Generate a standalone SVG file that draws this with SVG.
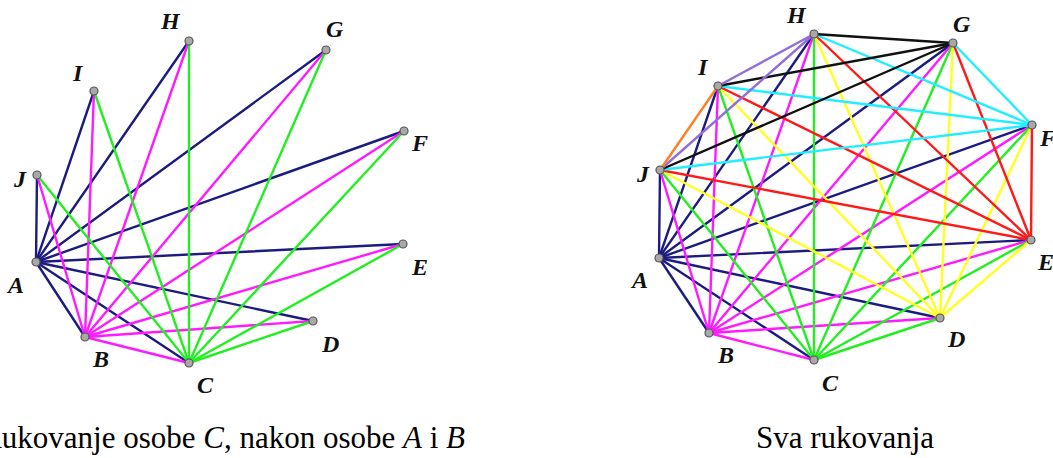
<svg xmlns="http://www.w3.org/2000/svg" width="1053" height="458" viewBox="0 0 1053 458">
<style>
line{stroke-width:2.4;stroke-linecap:round}
.a{stroke:#1b1b80}.b{stroke:#ff1aff}.c{stroke:#22ee22}.d{stroke:#ffff22}.e{stroke:#ff1a1a}.f{stroke:#22eeff}.g{stroke:#111111}.h{stroke:#9070d8}.i{stroke:#ff8020}
circle{fill:#a8a8a8;stroke:#555;stroke-width:1.2}
.lbl{font-family:'Liberation Serif','DejaVu Serif',serif;font-weight:bold;font-style:italic;font-size:24px;fill:#111}
.cap{font-family:'Liberation Serif','DejaVu Serif',serif;font-size:31px;fill:#000}
</style>
<rect width="1053" height="458" fill="#fff"/>
<g id="connectors-left">
<line class="a" x1="36" y1="262" x2="85" y2="337"/>
<line class="a" x1="36" y1="262" x2="189" y2="363"/>
<line class="a" x1="36" y1="262" x2="313" y2="321"/>
<line class="a" x1="36" y1="262" x2="403" y2="244"/>
<line class="a" x1="36" y1="262" x2="404" y2="131"/>
<line class="a" x1="36" y1="262" x2="326" y2="50"/>
<line class="a" x1="36" y1="262" x2="189" y2="41"/>
<line class="a" x1="36" y1="262" x2="94" y2="91"/>
<line class="a" x1="36" y1="262" x2="37" y2="175"/>
<line class="b" x1="85" y1="337" x2="189" y2="363"/>
<line class="b" x1="85" y1="337" x2="313" y2="321"/>
<line class="b" x1="85" y1="337" x2="403" y2="244"/>
<line class="b" x1="85" y1="337" x2="404" y2="131"/>
<line class="b" x1="85" y1="337" x2="326" y2="50"/>
<line class="b" x1="85" y1="337" x2="189" y2="41"/>
<line class="b" x1="85" y1="337" x2="94" y2="91"/>
<line class="b" x1="85" y1="337" x2="37" y2="175"/>
<line class="c" x1="189" y1="363" x2="313" y2="321"/>
<line class="c" x1="189" y1="363" x2="403" y2="244"/>
<line class="c" x1="189" y1="363" x2="404" y2="131"/>
<line class="c" x1="189" y1="363" x2="326" y2="50"/>
<line class="c" x1="189" y1="363" x2="189" y2="41"/>
<line class="c" x1="189" y1="363" x2="94" y2="91"/>
<line class="c" x1="189" y1="363" x2="37" y2="175"/>
</g>
<g id="left-A"><circle cx="36" cy="262" r="4"/><text class="lbl" x="8" y="293">A</text></g>
<g id="left-B"><circle cx="85" cy="337" r="4"/><text class="lbl" x="93" y="367">B</text></g>
<g id="left-C"><circle cx="189" cy="363" r="4"/><text class="lbl" x="197" y="393">C</text></g>
<g id="left-D"><circle cx="313" cy="321" r="4"/><text class="lbl" x="322" y="352">D</text></g>
<g id="left-E"><circle cx="403" cy="244" r="4"/><text class="lbl" x="412" y="275">E</text></g>
<g id="left-F"><circle cx="404" cy="131" r="4"/><text class="lbl" x="412" y="151">F</text></g>
<g id="left-G"><circle cx="326" cy="50" r="4"/><text class="lbl" x="326" y="37">G</text></g>
<g id="left-H"><circle cx="189" cy="41" r="4"/><text class="lbl" x="161" y="29">H</text></g>
<g id="left-I"><circle cx="94" cy="91" r="4"/><text class="lbl" x="73" y="81">I</text></g>
<g id="left-J"><circle cx="37" cy="175" r="4"/><text class="lbl" x="14" y="187">J</text></g>

<g id="connectors-right">
<line class="a" x1="659" y1="258" x2="709" y2="333"/>
<line class="a" x1="659" y1="258" x2="814" y2="360"/>
<line class="a" x1="659" y1="258" x2="940" y2="318"/>
<line class="a" x1="659" y1="258" x2="1031" y2="240"/>
<line class="a" x1="659" y1="258" x2="1032" y2="125"/>
<line class="a" x1="659" y1="258" x2="953" y2="43"/>
<line class="a" x1="659" y1="258" x2="814" y2="34"/>
<line class="a" x1="659" y1="258" x2="718" y2="86"/>
<line class="a" x1="659" y1="258" x2="660" y2="170"/>
<line class="b" x1="709" y1="333" x2="814" y2="360"/>
<line class="b" x1="709" y1="333" x2="940" y2="318"/>
<line class="b" x1="709" y1="333" x2="1031" y2="240"/>
<line class="b" x1="709" y1="333" x2="1032" y2="125"/>
<line class="b" x1="709" y1="333" x2="953" y2="43"/>
<line class="b" x1="709" y1="333" x2="814" y2="34"/>
<line class="b" x1="709" y1="333" x2="718" y2="86"/>
<line class="b" x1="709" y1="333" x2="660" y2="170"/>
<line class="c" x1="814" y1="360" x2="940" y2="318"/>
<line class="c" x1="814" y1="360" x2="1031" y2="240"/>
<line class="c" x1="814" y1="360" x2="1032" y2="125"/>
<line class="c" x1="814" y1="360" x2="953" y2="43"/>
<line class="c" x1="814" y1="360" x2="814" y2="34"/>
<line class="c" x1="814" y1="360" x2="718" y2="86"/>
<line class="c" x1="814" y1="360" x2="660" y2="170"/>
<line class="d" x1="940" y1="318" x2="1031" y2="240"/>
<line class="d" x1="940" y1="318" x2="1032" y2="125"/>
<line class="d" x1="940" y1="318" x2="953" y2="43"/>
<line class="d" x1="940" y1="318" x2="814" y2="34"/>
<line class="d" x1="940" y1="318" x2="718" y2="86"/>
<line class="d" x1="940" y1="318" x2="660" y2="170"/>
<line class="e" x1="1031" y1="240" x2="1032" y2="125"/>
<line class="e" x1="1031" y1="240" x2="953" y2="43"/>
<line class="e" x1="1031" y1="240" x2="814" y2="34"/>
<line class="e" x1="1031" y1="240" x2="718" y2="86"/>
<line class="e" x1="1031" y1="240" x2="660" y2="170"/>
<line class="f" x1="1032" y1="125" x2="953" y2="43"/>
<line class="f" x1="1032" y1="125" x2="814" y2="34"/>
<line class="f" x1="1032" y1="125" x2="718" y2="86"/>
<line class="f" x1="1032" y1="125" x2="660" y2="170"/>
<line class="g" x1="953" y1="43" x2="814" y2="34"/>
<line class="g" x1="953" y1="43" x2="718" y2="86"/>
<line class="g" x1="953" y1="43" x2="660" y2="170"/>
<line class="h" x1="814" y1="34" x2="718" y2="86"/>
<line class="h" x1="814" y1="34" x2="660" y2="170"/>
<line class="i" x1="718" y1="86" x2="660" y2="170"/>
</g>
<g id="right-A"><circle cx="659" cy="258" r="4"/><text class="lbl" x="632" y="288">A</text></g>
<g id="right-B"><circle cx="709" cy="333" r="4"/><text class="lbl" x="718" y="363">B</text></g>
<g id="right-C"><circle cx="814" cy="360" r="4"/><text class="lbl" x="822" y="391">C</text></g>
<g id="right-D"><circle cx="940" cy="318" r="4"/><text class="lbl" x="948" y="347">D</text></g>
<g id="right-E"><circle cx="1031" cy="240" r="4"/><text class="lbl" x="1038" y="270">E</text></g>
<g id="right-F"><circle cx="1032" cy="125" r="4"/><text class="lbl" x="1040" y="146">F</text></g>
<g id="right-G"><circle cx="953" cy="43" r="4"/><text class="lbl" x="953" y="32">G</text></g>
<g id="right-H"><circle cx="814" cy="34" r="4"/><text class="lbl" x="787" y="23">H</text></g>
<g id="right-I"><circle cx="718" cy="86" r="4"/><text class="lbl" x="698" y="75">I</text></g>
<g id="right-J"><circle cx="660" cy="170" r="4"/><text class="lbl" x="637" y="182">J</text></g>

<g id="captions">
<text class="cap" x="465" y="448" text-anchor="end">Rukovanje osobe <tspan font-style="italic">C</tspan>, nakon osobe <tspan font-style="italic">A</tspan> i <tspan font-style="italic">B</tspan></text>
<text class="cap" x="845" y="448" text-anchor="middle">Sva rukovanja</text>
</g>
</svg>
